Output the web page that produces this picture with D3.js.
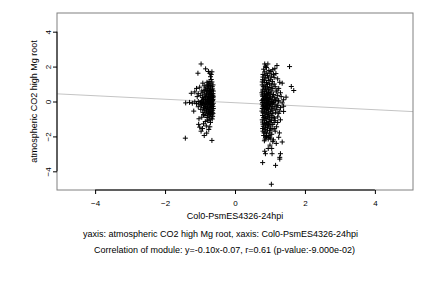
<!DOCTYPE html>
<html>
<head>
<meta charset="utf-8">
<script src="https://cdn.jsdelivr.net/npm/d3@7"></script>
<style>
  body { margin: 0; background: #fff; }
  svg { display: block; font-family: "Liberation Sans", Arial, Helvetica, sans-serif; }
</style>
</head>
<body>
<svg id="chart" width="432" height="288"></svg>
<script>
// tick values
const xTicks = [-4, -2, 0, 2, 4]
const yTicks = [-4, -2, 0, 2, 4]

// regression line y = slope*x + intercept
const slope = -0.10
const intercept = -0.07

// module points, left group (x around -0.7)
const groupLeft = [
  [-0.97,2.15],[-1.06,1.62],[-0.84,1.87],[-0.76,1.72],[-0.72,1.62],[-0.68,1.55],[-0.66,1.7],[-0.7,1.42],
  [-0.68,1.26],[-0.92,1.05],[-1.01,0.82],[-1.1,0.75],[-0.8,1.1],[-0.75,1.0],[-0.66,1.12],[-1.25,0.47],
  [-1.15,0.55],[-0.88,0.9],[-0.72,0.92],[-0.65,0.85],
  [-0.95,0.6],[-0.85,0.7],[-0.78,0.75],[-0.7,0.68],[-0.64,0.72],[-1.05,0.45],[-0.92,0.5],[-0.82,0.55],
  [-0.74,0.5],[-0.67,0.55],[-0.63,0.45],[-0.98,0.35],[-0.88,0.38],[-0.8,0.32],[-0.72,0.4],[-0.66,0.3],
  [-0.76,0.25],[-0.69,0.2],[-0.63,0.22],[-0.85,0.2],[-0.93,0.22],[-1.08,0.28],
  [-1.41,-0.08],[-1.3,-0.05],[-1.22,-0.1],[-1.15,-0.02],[-1.1,-0.12],[-1.05,0.0],[-0.99,-0.08],[-0.95,0.05],
  [-0.9,-0.04],[-0.86,0.1],[-0.82,-0.1],[-0.79,0.12],[-0.76,0.0],[-0.73,-0.06],[-0.71,0.08],[-0.68,0.15],
  [-0.66,-0.02],[-0.64,0.05],[-0.62,-0.1],[-0.77,-0.15],[-0.7,-0.18],[-0.74,0.17],[-0.87,-0.18],[-0.65,-0.17],
  [-0.8,0.05],[-0.69,-0.1],[-0.63,0.12],[-0.84,-0.02],[-1.0,-0.16],[-0.93,-0.12],
  [-1.18,-0.55],[-1.05,-0.3],[-0.96,-0.25],[-0.9,-0.35],[-0.84,-0.28],[-0.78,-0.3],[-0.72,-0.26],[-0.67,-0.32],
  [-0.63,-0.28],[-0.98,-0.45],[-0.88,-0.5],[-0.81,-0.44],[-0.75,-0.48],[-0.69,-0.42],[-0.64,-0.5],[-0.92,-0.62],
  [-0.83,-0.65],[-0.76,-0.6],[-0.7,-0.68],[-0.65,-0.62],[-0.86,-0.8],[-0.78,-0.78],[-0.72,-0.85],[-0.66,-0.76],
  [-0.8,-0.92],[-0.68,-0.95],[-0.74,-1.02],
  [-1.03,-0.99],[-0.85,-1.15],[-0.7,-1.2],[-1.04,-1.31],[-0.9,-1.28],[-1.01,-1.47],[-0.82,-1.4],[-0.93,-1.55],
  [-0.75,-1.6],[-0.81,-1.81],[-0.97,-1.7],[-0.66,-2.23],[-1.42,-2.1],[-0.88,-1.95],[-0.72,-1.45],
  [-0.78,0.62],[-0.71,0.58],[-0.66,0.64],[-0.75,0.38],[-0.69,0.44],[-0.64,0.36],[-0.81,0.45],[-0.77,0.12],
  [-0.72,0.28],[-0.67,0.1],[-0.62,0.3],[-0.8,-0.2],[-0.75,-0.1],[-0.71,-0.35],[-0.66,-0.22],[-0.62,-0.4],
  [-0.79,-0.38],[-0.73,-0.55],[-0.68,-0.58],[-0.63,-0.68],[-0.77,-0.7],[-0.71,-0.75],[-0.64,-0.85],[-0.82,-0.55],
  [-0.86,-0.4],[-0.84,0.28],[-0.9,0.12],[-0.97,-0.02],[-0.7,0.82],[-0.76,0.88],[-0.83,0.82],[-0.63,0.95],
  [-0.69,1.05],[-0.74,1.15],[-0.79,0.95],[-0.65,-1.0],[-0.78,-1.1],[-0.7,-0.02],[-0.67,0.24],[-0.73,0.62],
  [-0.88,0.62],[-0.9,-0.75],[-0.95,-0.9],[-0.62,0.6]
]

// module points, right group (x around 0.9)
const groupRight = [
  [0.85,2.15],[0.94,2.15],[1.2,2.06],[1.56,2.0],[0.82,1.85],[0.9,1.95],[0.97,1.78],[1.08,1.82],
  [1.14,1.88],[0.85,1.7],[1.0,1.62],[1.1,1.55],[1.17,1.6],[0.8,1.55],[0.93,1.5],[1.04,1.45],
  [1.35,1.05],[1.61,0.86],[1.68,0.63],[1.46,0.25],[1.39,0.1],[1.22,1.3],[0.88,1.35],[0.79,1.25],
  [0.95,1.2],[1.07,1.15],[0.83,1.1],[1.12,1.0],
  [0.78,0.95],[0.86,0.9],[0.92,0.85],[1.0,0.8],[1.15,0.85],[1.25,0.75],[0.8,0.7],[0.88,0.72],
  [0.95,0.65],[1.05,0.6],[1.18,0.55],[1.3,0.5],[0.77,0.5],[0.84,0.45],[0.9,0.55],[0.98,0.42],
  [1.1,0.4],[1.22,0.35],[0.79,0.3],[0.87,0.28],[0.93,0.35],[1.02,0.25],[1.14,0.22],[1.32,0.28],
  [0.82,0.18],[0.9,0.15],[0.97,0.12],[1.06,0.1],[1.2,0.15],
  [0.77,0.05],[0.83,-0.02],[0.88,0.08],[0.92,-0.05],[0.96,0.02],[1.0,-0.1],[1.05,0.0],[1.1,-0.06],
  [1.16,0.04],[1.25,-0.02],[1.35,-0.08],[0.78,-0.15],[0.85,-0.2],[0.9,-0.12],[0.95,-0.25],[1.02,-0.18],
  [1.08,-0.28],[1.14,-0.15],[1.22,-0.22],[1.39,-0.27],[0.8,-0.3],[0.87,-0.35],[0.93,-0.4],[0.99,-0.32],
  [1.04,-0.42],[1.12,-0.38],[1.2,-0.45],[1.3,-0.35],[1.39,-0.57],
  [0.77,-0.55],[0.83,-0.6],[0.89,-0.5],[0.95,-0.65],[1.01,-0.58],[1.08,-0.7],[1.16,-0.62],[1.25,-0.68],
  [0.79,-0.8],[0.86,-0.85],[0.92,-0.75],[0.98,-0.9],[1.05,-0.82],[1.13,-0.95],[1.22,-0.88],[0.78,-1.05],
  [0.85,-1.1],[0.91,-1.0],[0.97,-1.15],[1.04,-1.08],[1.12,-1.2],[1.3,-1.05],[0.8,-1.3],[0.87,-1.35],
  [0.94,-1.25],[1.0,-1.4],[1.08,-1.32],[1.19,-1.45],[0.79,-1.55],[0.86,-1.6],[0.92,-1.5],[0.99,-1.68],
  [1.06,-1.58],[1.15,-1.7],[0.83,-1.8],[0.9,-1.85],[0.97,-1.95],[1.05,-1.88],[1.27,-1.8],[0.88,-2.05],
  [0.95,-2.15],[1.02,-2.1],[1.35,-2.32],[0.84,-2.25],[1.25,-2.05],
  [0.95,-2.69],[1.05,-2.69],[0.87,-2.99],[1.06,-2.99],[1.3,-2.99],[1.28,-3.2],[1.28,-3.3],[0.79,-3.5],
  [1.16,-3.66],[1.04,-4.74],[0.85,-2.85],[1.0,-2.5],[1.18,-2.4],
  [0.8,1.4],[0.86,1.48],[0.91,1.62],[0.96,1.35],[1.02,1.25],[0.78,1.12],[0.84,1.22],[0.9,1.08],
  [0.99,1.02],[1.05,0.95],[0.81,0.85],[0.87,0.78],[0.93,0.98],[0.97,0.7],[1.08,0.75],[0.79,0.6],
  [0.85,0.58],[0.91,0.42],[0.96,0.52],[1.01,0.48],[0.78,0.38],[0.83,0.32],[0.89,0.38],[0.95,0.22],
  [1.07,0.3],[0.8,0.12],[0.86,0.2],[0.92,0.08],[0.99,0.18],[1.12,0.08],[0.79,-0.06],[0.84,0.1],
  [0.89,-0.08],[0.94,0.1],[1.03,-0.04],[0.81,-0.22],[0.88,-0.28],[0.93,-0.16],[0.98,-0.22],[1.06,-0.12],
  [0.78,-0.4],[0.84,-0.45],[0.9,-0.38],[0.96,-0.48],[1.08,-0.5],[0.8,-0.65],[0.86,-0.7],[0.91,-0.6],
  [0.97,-0.78],[1.03,-0.68],[0.82,-0.92],[0.88,-0.98],[0.94,-0.88],[1.0,-1.02],[1.09,-0.92],[0.79,-1.18],
  [0.84,-1.25],[0.9,-1.2],[0.96,-1.32],[1.03,-1.22],[0.81,-1.42],[0.88,-1.48],[0.94,-1.4],[1.02,-1.55],
  [0.8,-1.7],[0.86,-1.75],[0.93,-1.65],[1.0,-1.8],[0.82,-1.95],[0.9,-2.0],[0.98,-2.05],[0.86,-2.15],
  [1.1,-2.2],[1.15,-1.1],[1.18,-0.3],[1.28,-0.55],[1.24,0.05],[1.2,0.65],[1.28,1.1],[1.12,1.38],
  [1.03,1.72],[0.87,2.02],[1.12,-1.55],[1.22,-1.2],[1.08,-2.3]
]

const yTitle = "atmospheric CO2 high Mg root"
const xTitle = "Col0-PsmES4326-24hpi"
const caption1 = "yaxis: atmospheric CO2 high Mg root, xaxis: Col0-PsmES4326-24hpi"
const caption2 = "Correlation of module: y=-0.10x-0.07, r=0.61 (p-value:-9.000e-02)"

const PLOT = { LEFT: 57, RIGHT: 413, TOP: 13, BOTTOM: 190 }

const svg = d3.select("#chart")

// scales
const x = d3.scaleLinear().domain([-5.09, 5.09]).range([PLOT.LEFT, PLOT.RIGHT])
const y = d3.scaleLinear().domain([-5.07, 5.07]).range([PLOT.BOTTOM, PLOT.TOP])

// regression line, clipped to the box
svg.append("clipPath").attr("id", "plotClip")
  .append("rect")
  .attr("x", PLOT.LEFT).attr("y", PLOT.TOP)
  .attr("width", PLOT.RIGHT - PLOT.LEFT).attr("height", PLOT.BOTTOM - PLOT.TOP)

const xd = x.domain()
svg.append("line")
  .attr("clip-path", "url(#plotClip)")
  .attr("x1", x(xd[0])).attr("y1", y(slope * xd[0] + intercept))
  .attr("x2", x(xd[1])).attr("y2", y(slope * xd[1] + intercept))
  .attr("stroke", "#c4c4c4")
  .attr("stroke-width", 1)

// points as plus signs
const allPoints = groupLeft.concat(groupRight)
const arm = 2.5
svg.append("g")
  .selectAll("path")
  .data(allPoints)
  .join("path")
  .attr("d", d => {
    const px = x(d[0]), py = y(d[1])
    return `M${px - arm},${py}H${px + arm}M${px},${py - arm}V${py + arm}`
  })
  .attr("stroke", "#000")
  .attr("stroke-width", 1)
  .attr("fill", "none")

// box
svg.append("rect")
  .attr("x", PLOT.LEFT).attr("y", PLOT.TOP)
  .attr("width", PLOT.RIGHT - PLOT.LEFT).attr("height", PLOT.BOTTOM - PLOT.TOP)
  .attr("fill", "none")
  .attr("stroke", "#808080")
  .attr("stroke-width", 1)

// bottom axis
const xAxisCall = d3.axisBottom(x).tickValues(xTicks).tickSize(4).tickSizeOuter(0).tickPadding(6)
const xAxis = svg.append("g")
  .attr("transform", `translate(0, ${PLOT.BOTTOM})`)
  .call(xAxisCall)
xAxis.select(".domain").remove()
xAxis.append("line")
  .attr("x1", x(xTicks[0])).attr("x2", x(xTicks[xTicks.length - 1]))
  .attr("stroke", "#000")
xAxis.selectAll("text").attr("font-size", "8px").attr("fill", "#000")
  .attr("font-family", "Liberation Sans, Arial, sans-serif")

// left axis, labels turned like in base R
const yAxisCall = d3.axisLeft(y).tickValues(yTicks).tickSize(4).tickSizeOuter(0)
const yAxis = svg.append("g")
  .attr("transform", `translate(${PLOT.LEFT}, 0)`)
  .call(yAxisCall)
yAxis.select(".domain").remove()
yAxis.append("line")
  .attr("y1", y(yTicks[0])).attr("y2", y(yTicks[yTicks.length - 1]))
  .attr("stroke", "#000")
yAxis.selectAll(".tick text")
  .attr("x", null).attr("dy", null)
  .attr("text-anchor", "middle")
  .attr("transform", "translate(-6.5,0) rotate(-90)")
  .attr("font-size", "8px").attr("fill", "#000")
  .attr("font-family", "Liberation Sans, Arial, sans-serif")
yAxis.selectAll(".tick line").attr("stroke", "#000")
xAxis.selectAll(".tick line").attr("stroke", "#000")

// titles
svg.append("text")
  .attr("transform", `translate(37, ${(PLOT.TOP + PLOT.BOTTOM) / 2}) rotate(-90)`)
  .attr("text-anchor", "middle")
  .attr("font-size", "9px")
  .text(yTitle)

svg.append("text")
  .attr("x", 235).attr("y", 219)
  .attr("text-anchor", "middle")
  .attr("font-size", "9px")
  .text(xTitle)

svg.append("text")
  .attr("x", 220.5).attr("y", 236.5)
  .attr("text-anchor", "middle")
  .attr("font-size", "9px")
  .text(caption1)

svg.append("text")
  .attr("x", 224.5).attr("y", 253)
  .attr("text-anchor", "middle")
  .attr("font-size", "9px")
  .text(caption2)
</script>
</body>
</html>
